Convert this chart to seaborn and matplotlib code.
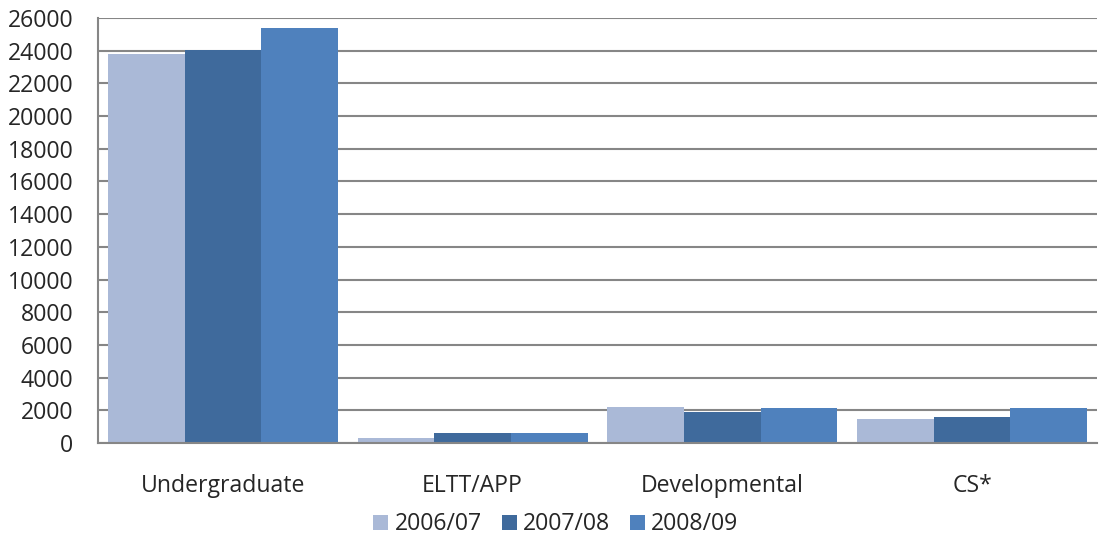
import numpy as np
import pandas as pd
import matplotlib
matplotlib.use("Agg")
import matplotlib.pyplot as plt
import seaborn as sns
from matplotlib.patches import Patch

categories = ["Undergraduate", "ELTT/APP", "Developmental", "CS*"]
years = ["2006/07", "2007/08", "2008/09"]
v_2006 = [23800, 330, 2180, 1500]
v_2007 = [24050, 600, 1900, 1570]
v_2008 = [25400, 600, 2120, 2120]
colors = ["#AAB9D7", "#3F6A9C", "#4F81BD"]

rows = []
for yr, vals in zip(years, [v_2006, v_2007, v_2008]):
    for c, v in zip(categories, vals):
        rows.append({"Category": c, "Year": yr, "Value": v})
df = pd.DataFrame(rows)

sns.set_style("white")
plt.rcParams["font.family"] = ["Open Sans", "DejaVu Sans"]
FS = 16.6

fig = plt.figure(figsize=(11.02, 5.39), dpi=100)
ax = fig.add_axes([0.0889, 0.178, 0.9066, 0.7886])

sns.barplot(data=df, x="Category", y="Value", hue="Year", order=categories,
            hue_order=years, palette=colors, width=0.92, saturation=1,
            linewidth=0, ax=ax, legend=False)

ax.set_ylim(0, 26000)
ax.set_xlim(-0.5, len(categories) - 0.5)
ax.set_yticks(np.arange(0, 26001, 2000))
ax.yaxis.grid(True, color="#868686", linewidth=1.5)
ax.set_axisbelow(True)
ax.set_xlabel("")
ax.set_ylabel("")
for s in ["top", "right"]:
    ax.spines[s].set_visible(False)
for s in ["left", "bottom"]:
    ax.spines[s].set_color("#868686")
    ax.spines[s].set_linewidth(1.5)

ax.tick_params(axis="y", length=5.8, color="#868686", width=1.5, labelsize=FS, pad=12)
ax.tick_params(axis="x", which="major", length=0, labelsize=FS, pad=22)
ax.set_xticks(np.arange(-0.5, len(categories)), minor=True)
ax.tick_params(axis="x", which="minor", length=6.5, color="#868686", width=1.5)

handles = [Patch(facecolor=c, edgecolor="none") for c in colors]
fig.legend(handles, years, loc="center", bbox_to_anchor=(0.5045, 0.027), ncol=3,
           frameon=False, fontsize=FS, handlelength=0.65, handleheight=0.65,
           handletextpad=0.28, columnspacing=0.85, borderpad=0, borderaxespad=0)

fig.savefig("out.png", dpi=100)
